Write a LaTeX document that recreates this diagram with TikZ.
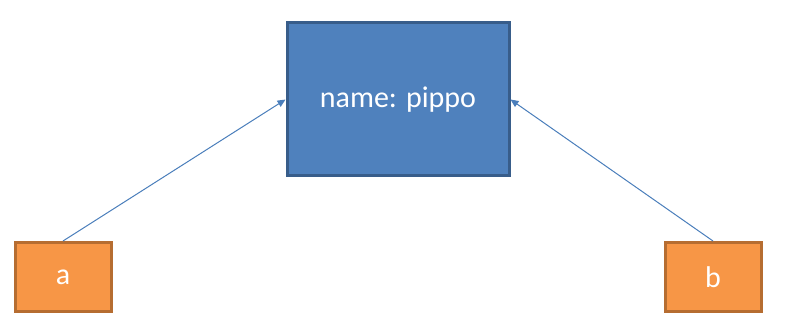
\documentclass[tikz,border=0pt]{standalone}
\usepackage{fontspec}
\setmainfont{Carlito}
\usetikzlibrary{positioning,arrows.meta}
\definecolor{boxBlue}{HTML}{4F81BD}
\definecolor{boxBlueLine}{HTML}{385D8A}
\definecolor{boxOrange}{HTML}{F79646}
\definecolor{boxOrangeLine}{HTML}{B66D31}
\definecolor{linkBlue}{HTML}{4A7EBB}

\begin{document}
\begin{tikzpicture}[x=1pt,y=1pt,
  bigBox/.style={draw=boxBlueLine,fill=boxBlue,line width=3pt,minimum width=222pt,minimum height=153pt,inner sep=0pt,text=white,font=\fontsize{30}{36}\selectfont},
  smallBox/.style={draw=boxOrangeLine,fill=boxOrange,line width=3pt,minimum width=96pt,minimum height=69pt,inner sep=0pt,text=white,font=\fontsize{30}{36}\selectfont},
  link/.style={draw=linkBlue,line width=1pt,-{Triangle[length=8pt,width=7pt]}}]
\useasboundingbox (0,0) rectangle (785,329);
%the nodes
\node [bigBox] (nameBox) at (398,229.5) {name: pippo};
\node [smallBox] (aBox) at (63,52) {a};
\node [smallBox] (bBox) at (713,52) {b};
%drawings of lines
\draw [link] (aBox.north) -- (nameBox.west);
\draw [link] (bBox.north) -- (nameBox.east);
\end{tikzpicture}
\end{document}
